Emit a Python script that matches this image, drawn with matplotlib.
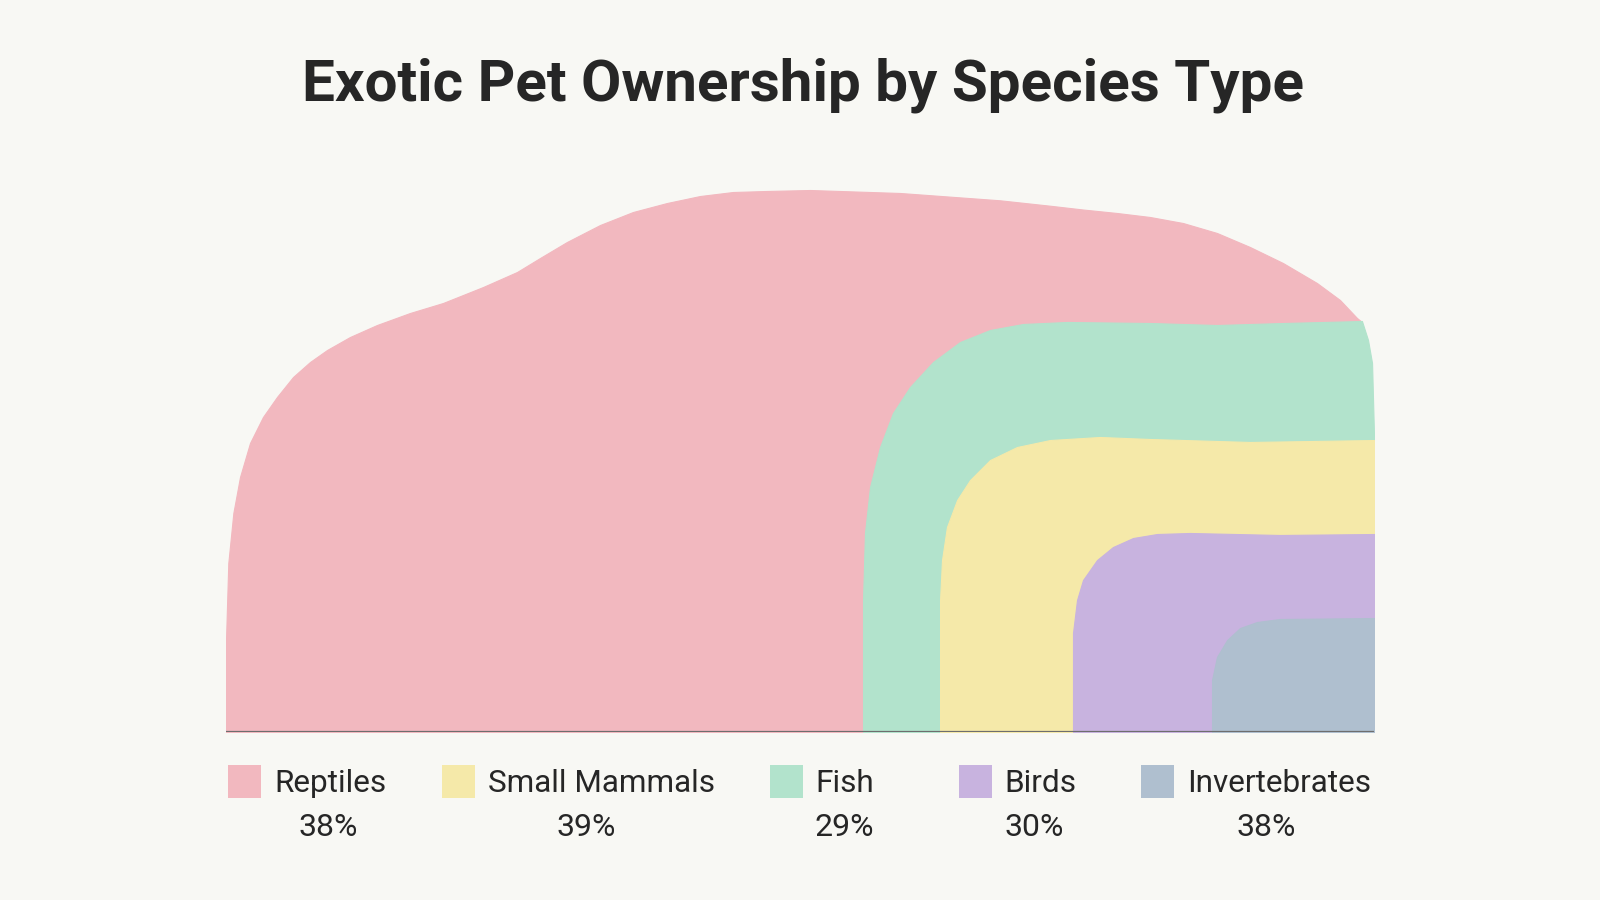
import matplotlib
matplotlib.use("Agg")
import matplotlib.pyplot as plt
from matplotlib.patches import Rectangle

# ---------------- data ----------------
species = ["Reptiles", "Small Mammals", "Fish", "Birds", "Invertebrates"]
shares = ["38%", "39%", "29%", "30%", "38%"]
title = "Exotic Pet Ownership by Species Type"

reptiles_x = [0.00, 0.20, 0.64, 1.22, 2.09, 3.22, 4.44, 5.84, 7.32, 8.80, 10.80, 13.15, 16.03,
              18.90, 22.39, 25.35, 27.35, 29.70, 32.58, 35.45, 38.41, 41.29, 44.16, 47.13,
              50.87, 58.71, 67.42, 71.78, 74.65, 77.61, 80.49, 83.36, 86.32, 89.20, 92.07,
              95.03, 97.04, 98.52, 98.95]
reptiles_y = [16.97, 31.18, 40.41, 47.05, 53.32, 58.12, 61.81, 65.50, 68.27, 70.48, 72.88,
              75.09, 77.31, 79.15, 82.10, 84.87, 87.45, 90.41, 93.54, 95.94, 97.60, 98.89,
              99.63, 99.82, 100.0, 99.45, 98.1, 97.1, 96.4, 95.76, 95.02, 93.91, 92.07,
              89.48, 86.53, 82.84, 79.70, 76.38, 75.65]

fish_x = [55.49, 55.66, 56.10, 56.97, 58.10, 59.58, 61.59, 63.94, 66.55, 69.43, 73.26, 80.49,
          86.32, 92.07, 98.95, 99.48, 99.83, 99.91, 100.0]
fish_y = [24.35, 36.72, 45.20, 52.58, 58.86, 63.65, 68.27, 71.96, 74.17, 75.28, 75.65, 75.46,
          75.09, 75.46, 75.83, 72.32, 68.08, 61.81, 54.80]

mammals_x = [62.20, 62.37, 62.80, 63.68, 64.81, 66.55, 68.90, 71.78, 76.13, 80.49, 89.20, 100.0]
mammals_y = [24.35, 31.73, 37.82, 42.80, 46.49, 50.18, 52.58, 53.87, 54.43, 54.06, 53.51, 53.87]

birds_x = [73.78, 74.13, 74.65, 75.87, 77.26, 79.01, 81.10, 83.97, 91.81, 100.0]
birds_y = [18.27, 24.35, 28.04, 31.73, 34.13, 35.79, 36.53, 36.72, 36.35, 36.53]

invert_x = [85.89, 86.32, 87.20, 88.33, 89.81, 91.81, 100.0]
invert_y = [9.59, 13.84, 16.97, 19.19, 20.30, 20.85, 21.03]

# ---------------- style ----------------
BG = "#F8F8F4"
COLORS = {
    "Reptiles": "#F2B8BF",
    "Small Mammals": "#F5E9A9",
    "Fish": "#B2E3CC",
    "Birds": "#C8B3DF",
    "Invertebrates": "#AFBFCF",
}
FONT = ["Roboto", "DejaVu Sans"]
TEXT = "#262626"

fig = plt.figure(figsize=(16, 9), dpi=100, facecolor=BG)
W, H = 1600.0, 900.0
ax = fig.add_axes([226 / W, (H - 732) / H, 1148 / W, 105 * 5.42 / H])
ax.set_xlim(0, 100)
ax.set_ylim(0, 105)
ax.axis("off")
ax.set_facecolor(BG)

layers = [
    ("Reptiles", reptiles_x, reptiles_y),
    ("Fish", fish_x, fish_y),
    ("Small Mammals", mammals_x, mammals_y),
    ("Birds", birds_x, birds_y),
    ("Invertebrates", invert_x, invert_y),
]
for name, xs, ys in layers:
    ax.fill_between(xs, ys, 0, facecolor=COLORS[name], edgecolor=COLORS[name],
                    lw=0.8, joinstyle="round", zorder=2)

ax.plot([0, 100], [0, 0], color="#6E6E6E", lw=1.6, zorder=3, solid_capstyle="butt")

fig.text(803 / W, (H - 85) / H, title, ha="center", va="center",
         fontsize=42, fontweight="bold", color=TEXT, family=FONT)

# legend layout (pixels)
sq_left = [228, 442, 770, 959, 1141]
txt_left = [274, 488, 815, 1004, 1187]
pct_center = [328, 586, 844, 1034, 1266]
sq = 33
for i, name in enumerate(species):
    fig.add_artist(Rectangle((sq_left[i] / W, (H - 798) / H), sq / W, sq / H,
                             transform=fig.transFigure, color=COLORS[name], lw=0))
    fig.text(txt_left[i] / W, (H - 784) / H, name, ha="left", va="center",
             fontsize=22.7, color=TEXT, family=FONT)
    fig.text(pct_center[i] / W, (H - 827) / H, shares[i], ha="center", va="center",
             fontsize=23, color=TEXT, family=FONT)

fig.savefig("out.png", dpi=100, facecolor=BG)
